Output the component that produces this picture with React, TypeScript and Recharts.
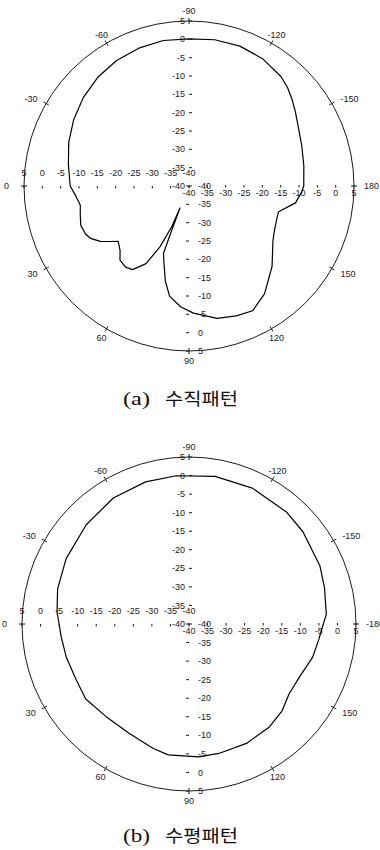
import React from 'react';
import { RadarChart, Radar, PolarAngleAxis, PolarRadiusAxis } from 'recharts';

// (a) 수직패턴 : angle (deg) / relative gain (dB)
const vAngles = [-180, -170, -160, -150, -145, -140, -135, -130, -120, -110, -100, -90, -80, -70, -60, -50, -40, -30, -20, -10, 0, 5, 10, 15, 20, 25, 28, 32, 35, 38, 43, 47, 52, 56, 61, 64.5, 67, 67.8, 68.6, 69.2, 72, 76, 80, 86, 92, 96, 102, 110, 117, 125, 136, 147, 153, 159, 164, 171, 177, 180];
const vGain = [-8.7, -8.2, -7.3, -5.8, -4.6, -3.3, -2.0, -1.0, 0.1, 0.6, 0.5, 0.1, 0.3, 0.0, -0.5, -1.3, -2.4, -3.7, -5.1, -6.6, -7.6, -9.0, -9.9, -9.3, -8.6, -8.9, -9.6, -11.5, -13.6, -15.5, -14.3, -12.4, -11.9, -12.5, -15.8, -21.6, -28.0, -33.5, -28.0, -20.4, -17.9, -13.3, -9.5, -7.0, -5.3, -4.6, -3.1, -2.3, -1.8, -4.1, -8.5, -12.7, -13.8, -14.4, -14.6, -10.6, -9.2, -8.7];

// (b) 수평패턴 : angle (deg) / relative gain (dB)
const hAngles = [-180, -176, -165, -156, -141, -131, -115, -100, -85, -73, -59, -44, -28, -15, -5, 0, 6, 15, 26, 36, 48, 61, 74, 81, 94, 103, 116, 128, 137, 145, 154, 165, 173, 180];
const hGain = [-3.8, -2.9, -2.2, -1.4, -0.5, 0.0, 0.4, 0.4, 0.1, 0.05, -0.4, -1.5, -2.5, -3.35, -4.3, -5.0, -5.4, -5.75, -6.1, -5.6, -6.5, -6.45, -5.1, -4.3, -4.1, -4.2, -4.3, -4.8, -5.7, -7.1, -7.0, -5.5, -4.8, -3.8];

const vAngleTicks = [-150, -120, -90, -60, -30, 0, 30, 60, 90, 120, 150, 180];
const hAngleTicks = [-180, -150, -120, -90, -60, -30, 0, 30, 60, 90, 120, 150];
const radialTicks = [5, 0, -5, -10, -15, -20, -25, -30, -35, -40];
const radialDomain: [number, number] = [-40, 5];

const vData = vAngles.map((angle, i) => ({ angle, gain: vGain[i] }));
const hData = hAngles.map((angle, i) => ({ angle, gain: hGain[i] }));

const LABEL_FONT = '"Liberation Sans", Arial, sans-serif';
const INK = '#1a1a1a';

function AngleTick(props: any) {
  const { payload, ox, oy, rr } = props;
  const a = payload.coordinate;
  const t = (-a * Math.PI) / 180;
  const c = Math.cos(t);
  const s = Math.sin(t);
  const p = (r: number) => [ox + r * c, oy + r * s];
  const [x1, y1] = p(rr - 3);
  const [x2, y2] = p(rr + 3);
  const far = c < -0.99 ? rr + 15 : rr + 10;
  const [lx, ly] = p(far);
  const anchor = c > 0.7 ? 'start' : c < -0.7 ? 'end' : 'middle';
  return (
    <g>
      <line x1={x1} y1={y1} x2={x2} y2={y2} stroke={INK} strokeWidth={1} />
      <text x={lx} y={ly} dy="0.35em" textAnchor={anchor} fontSize={9} fontFamily={LABEL_FONT} fill={INK}>
        {payload.value}
      </text>
    </g>
  );
}

function RadTick(props: any) {
  const { payload, x, y } = props;
  const r = payload.coordinate;
  const ox = x;
  const oy = y + r;
  const v = payload.value;
  return (
    <g fontSize={9} fontFamily={LABEL_FONT} fill={INK}>
      <text x={ox - 4} y={oy - r} dy="0.35em" textAnchor="end">{v}</text>
      <line x1={ox} x2={ox + 3} y1={oy - r} y2={oy - r} stroke={INK} />
      <text x={ox - r} y={oy - 10} textAnchor="middle">{v}</text>
      <line x1={ox - r} x2={ox - r} y1={oy} y2={oy + 2.5} stroke={INK} />
      <text x={ox + r} y={oy + 10} textAnchor="middle">{v}</text>
      <line x1={ox + r} x2={ox + r} y1={oy - 1} y2={oy + 1.5} stroke={INK} />
      <text x={ox + 9} y={oy + r} dy="0.35em" textAnchor="start">{v}</text>
      <line x1={ox - 3} x2={ox} y1={oy + r} y2={oy + r} stroke={INK} />
    </g>
  );
}

function PolarPattern({ data, ticks, cx, cy, R }: any) {
  return (
    <RadarChart
      width={380}
      height={400}
      data={data}
      cx={cx}
      cy={cy}
      outerRadius={R}
      startAngle={0}
      endAngle={360}
      margin={{ top: 0, right: 0, bottom: 0, left: 0 }}
    >
      <PolarAngleAxis
        dataKey="angle"
        type="number"
        domain={[-180, 180]}
        ticks={ticks}
        axisLineType="circle"
        axisLine={{ stroke: INK, strokeWidth: 1 }}
        tickLine={false}
        tick={<AngleTick ox={cx} oy={cy} rr={R} />}
        allowDataOverflow
      />
      <PolarRadiusAxis
        angle={90}
        type="number"
        domain={radialDomain}
        ticks={radialTicks}
        axisLine={false}
        tickLine={false}
        tick={<RadTick />}
        allowDataOverflow
      />
      <Radar
        dataKey="gain"
        stroke="#000"
        strokeWidth={1.2}
        strokeLinejoin="round"
        fill="none"
        fillOpacity={0}
        dot={false}
        isAnimationActive={false}
      />
    </RadarChart>
  );
}

export default function App() {
  return (
    <div style={{ position: 'absolute', left: 0, top: 0, width: 380, height: 850, background: '#fff' }}>
      <div style={{ position: 'absolute', left: 0, top: 0 }}>
        <PolarPattern data={vData} ticks={vAngleTicks} cx={189} cy={186} R={165} />
      </div>
      <div style={{ position: 'absolute', left: 0, top: 438 }}>
        <PolarPattern data={hData} ticks={hAngleTicks} cx={189} cy={186} R={167} />
      </div>
      <svg width={380} height={850} style={{ position: 'absolute', left: 0, top: 0, pointerEvents: 'none' }}>
        <text x={123} y={405} fontFamily='"Liberation Serif", serif' fontSize={18} fill="#111" textLength={27} lengthAdjust="spacingAndGlyphs">(a)</text>
        <text x={165} y={405} fontFamily='"Noto Sans CJK KR", sans-serif' fontSize={17} fill="#111" textLength={73} lengthAdjust="spacingAndGlyphs">수직패턴</text>
        <text x={123} y={842} fontFamily='"Liberation Serif", serif' fontSize={18} fill="#111" textLength={27} lengthAdjust="spacingAndGlyphs">(b)</text>
        <text x={165} y={842} fontFamily='"Noto Sans CJK KR", sans-serif' fontSize={17} fill="#111" textLength={73} lengthAdjust="spacingAndGlyphs">수평패턴</text>
      </svg>
    </div>
  );
}
